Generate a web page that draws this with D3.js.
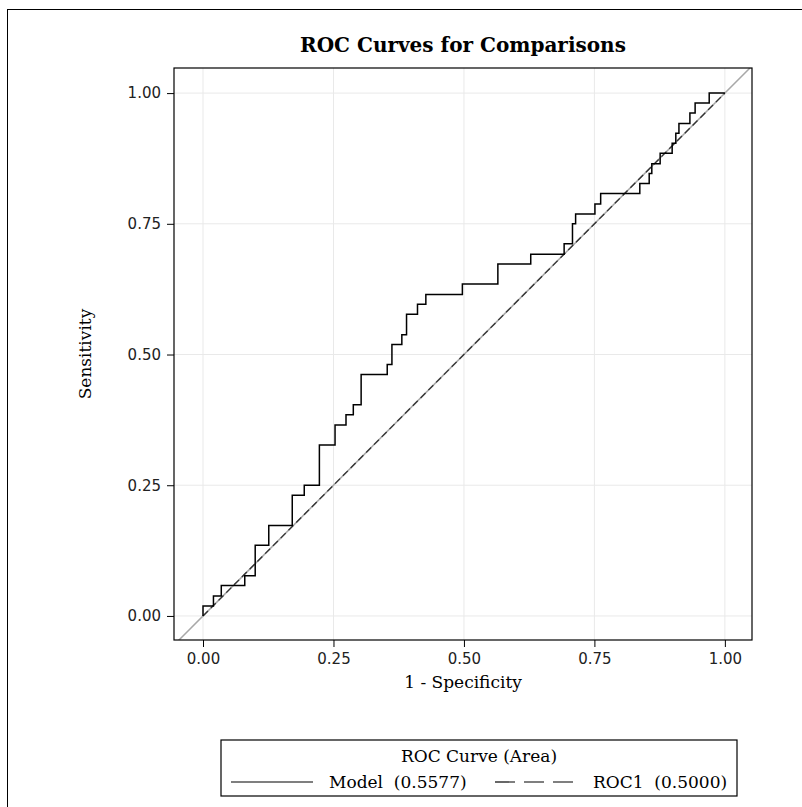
<!DOCTYPE html>
<html>
<head>
<meta charset="utf-8">
<script src="https://cdn.jsdelivr.net/npm/d3@7"></script>
<style>
  body { margin: 0; background: #fff; }
  svg { display: block; font-family: "DejaVu Serif", serif; }
</style>
</head>
<body>
<svg width="802" height="807"></svg>
<script>
  // DATA
  var fpr = [0, 0.020, 0.035, 0.080, 0.100, 0.126, 0.171, 0.194, 0.223, 0.253, 0.274, 0.288,
    0.303, 0.353, 0.362, 0.381, 0.390, 0.411, 0.427, 0.497, 0.565, 0.628, 0.692, 0.708,
    0.714, 0.751, 0.762, 0.837, 0.855, 0.860, 0.876, 0.899, 0.906, 0.912, 0.933, 0.943,
    0.970, 1.0];
  var tpr = [0, 0.019, 0.038, 0.058, 0.077, 0.135, 0.173, 0.231, 0.250, 0.327, 0.365, 0.385,
    0.404, 0.462, 0.481, 0.519, 0.538, 0.577, 0.596, 0.615, 0.635, 0.673, 0.692, 0.712,
    0.750, 0.769, 0.788, 0.808, 0.827, 0.846, 0.865, 0.885, 0.904, 0.923, 0.942, 0.962,
    0.981, 1.0];
  var refLine = [0, 1];
  var ticks = [0, 0.25, 0.5, 0.75, 1];
  var legendNames = ["Model", "ROC1"];
  var legendAreas = ["0.5577", "0.5000"];

  // SETUP
  var svg = d3.select("svg"),
    margin = { top: 68, right: 50, bottom: 167, left: 174 },
    width = 802 - margin.left - margin.right,
    height = 807 - margin.top - margin.bottom;

  var x = d3.scaleLinear().domain([-0.0556, 1.052]).range([0, width]),
    y = d3.scaleLinear().domain([-0.046, 1.048]).range([height, 0]);

  // outer border
  svg.append("rect")
    .attr("x", 7.5).attr("y", 9.5)
    .attr("width", 820).attr("height", 820)
    .attr("fill", "none").attr("stroke", "#000").attr("stroke-width", 1);

  svg.append("text")
    .attr("x", margin.left + width / 2)
    .attr("y", 52)
    .attr("text-anchor", "middle")
    .attr("font-size", 20)
    .attr("font-weight", "bold")
    .text("ROC Curves for Comparisons");

  var g = svg.append("g")
    .attr("transform", "translate(" + margin.left + "," + margin.top + ")");

  g.append("clipPath").attr("id", "clip")
    .append("rect").attr("width", width).attr("height", height);

  // grid
  g.selectAll(".vgrid").data(ticks).enter().append("line")
    .attr("x1", function (d) { return x(d); }).attr("x2", function (d) { return x(d); })
    .attr("y1", 0).attr("y2", height)
    .attr("stroke", "#e9e9e9");
  g.selectAll(".hgrid").data(ticks).enter().append("line")
    .attr("y1", function (d) { return y(d); }).attr("y2", function (d) { return y(d); })
    .attr("x1", 0).attr("x2", width)
    .attr("stroke", "#e9e9e9");

  var plot = g.append("g").attr("clip-path", "url(#clip)");

  // diagonal reference across full area
  plot.append("line")
    .attr("x1", x(-0.1)).attr("y1", y(-0.1))
    .attr("x2", x(1.1)).attr("y2", y(1.1))
    .attr("stroke", "#a8a8a8").attr("stroke-width", 1.5);

  // ROC1 dashed
  plot.append("line")
    .attr("x1", x(refLine[0])).attr("y1", y(refLine[0]))
    .attr("x2", x(refLine[1])).attr("y2", y(refLine[1]))
    .attr("stroke", "#333").attr("stroke-width", 1.3)
    .attr("stroke-dasharray", "7,4");

  var line = d3.line()
    .x(function (d, i) { return x(fpr[i]); })
    .y(function (d, i) { return y(tpr[i]); })
    .curve(d3.curveStepBefore);

  plot.append("path")
    .datum(fpr)
    .attr("fill", "none")
    .attr("stroke", "#000")
    .attr("stroke-width", 1.5)
    .attr("d", line);

  // axes
  var fmt = d3.format(".2f");
  g.append("g")
    .attr("transform", "translate(0," + height + ")")
    .call(d3.axisBottom(x).tickValues(ticks).tickFormat(fmt).tickSize(7).tickPadding(6).tickSizeOuter(0))
    .call(function (a) { a.select(".domain").remove(); });
  g.append("g")
    .call(d3.axisLeft(y).tickValues(ticks).tickFormat(fmt).tickSize(7).tickPadding(6).tickSizeOuter(0))
    .call(function (a) { a.select(".domain").remove(); });

  g.selectAll(".tick text")
    .attr("font-family", "'DejaVu Sans', sans-serif")
    .attr("font-size", 15)
    .attr("fill", "#222");
  g.selectAll(".tick line").attr("stroke", "#000");

  g.append("rect")
    .attr("width", width).attr("height", height)
    .attr("fill", "none").attr("stroke", "#000").attr("stroke-width", 1.2);

  g.append("text")
    .attr("x", width / 2).attr("y", height + 48)
    .attr("text-anchor", "middle")
    .attr("font-size", 17)
    .text("1 - Specificity");

  g.append("text")
    .attr("transform", "rotate(-90)")
    .attr("x", -height / 2).attr("y", -83)
    .attr("text-anchor", "middle")
    .attr("font-size", 17)
    .text("Sensitivity");

  // legend
  var lg = svg.append("g").attr("transform", "translate(221,740)");
  lg.append("rect")
    .attr("width", 516).attr("height", 56)
    .attr("fill", "none").attr("stroke", "#000").attr("stroke-width", 1.2);
  lg.append("text")
    .attr("x", 258).attr("y", 22)
    .attr("text-anchor", "middle").attr("font-size", 17)
    .text("ROC Curve (Area)");

  var items = [
    { lx: 10, tx: 108, dash: null },
    { lx: 274, tx: 372, dash: "20,9" }
  ];
  items.forEach(function (it, i) {
    lg.append("line")
      .attr("x1", it.lx).attr("x2", it.lx + 82)
      .attr("y1", 42).attr("y2", 42)
      .attr("stroke", "#000").attr("stroke-width", 1.2)
      .attr("stroke-dasharray", it.dash);
    lg.append("text")
      .attr("x", it.tx).attr("y", 48)
      .attr("font-size", 17)
      .attr("xml:space", "preserve")
      .text(legendNames[i] + "  (" + legendAreas[i] + ")");
  });
</script>
</body>
</html>
